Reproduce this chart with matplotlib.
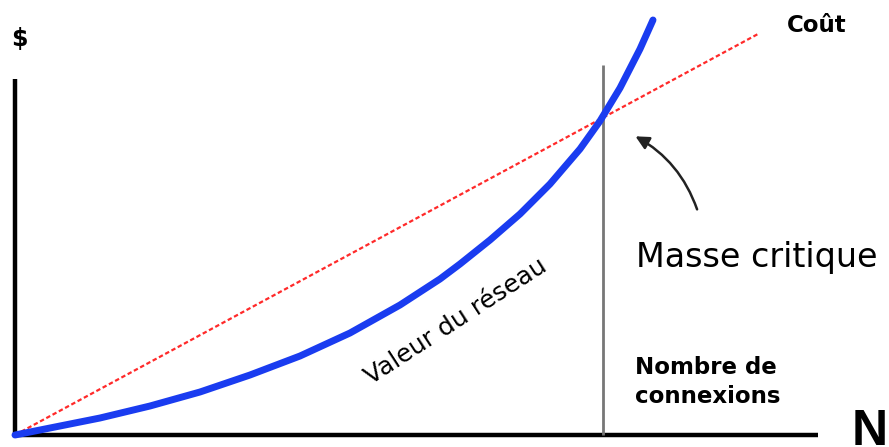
"""
Masse critique: valeur du réseau (courbe) contre coût (droite) en
fonction du nombre de connexions.
"""
import matplotlib
matplotlib.use("Agg")
import matplotlib.pyplot as plt
from matplotlib.patches import FancyArrowPatch

# connexions (x) and value in arbitrary units, origin at the corner
valeur_x = [0, 35, 85, 135, 185, 235, 285, 335, 385, 425, 445, 475,
            505, 535, 565, 585, 605, 625, 638]
valeur_y = [0, 7, 17, 29, 43, 60, 79, 102, 130, 156, 171, 195,
            221, 251, 286, 314, 347, 386, 415]
cout_x = [0, 743]
cout_y = [0, 401]
masse_critique_x = 588
axe_x_max = 803
axe_y_max = 356
seuil_y_max = 370

FONT = ["DejaVu Sans"]

fig = plt.figure(figsize=(8.89, 4.47), dpi=100, facecolor="white")
ax = fig.add_axes([0, 0, 1, 1])
ax.set_xlim(-15, 874)
ax.set_ylim(-12, 435)
ax.axis("off")

# axes drawn by hand
ax.plot([0, 0], [0, axe_y_max], color="black", lw=3.2, solid_capstyle="butt")
ax.plot([0, axe_x_max], [0, 0], color="black", lw=3.2, solid_capstyle="butt")

# critical mass line
ax.plot([masse_critique_x, masse_critique_x], [0, seuil_y_max],
        color="#777777", lw=2.0, solid_capstyle="butt")

# cost line and network value
ax.plot(cout_x, cout_y, color="#ff2a2a", lw=1.6, linestyle=(0, (2.0, 1.2)))
ax.plot(valeur_x, valeur_y, color="#1a3cf0", lw=5.0,
        solid_capstyle="round", solid_joinstyle="round")

# arrow pointing at the crossing
arrow = FancyArrowPatch((683, 223), (618, 300),
                        connectionstyle="arc3,rad=0.2",
                        arrowstyle="-|>,head_length=8,head_width=4",
                        color="#222222", lw=1.8)
ax.add_patch(arrow)

ax.text(-4, 396, "$", fontsize=17, fontweight="bold", family=FONT,
        ha="left", va="center")
ax.text(772, 410, "Coût", fontsize=16.5, fontweight="bold", family=FONT,
        ha="left", va="center")
ax.text(621, 177, "Masse critique", fontsize=24, family=FONT,
        ha="left", va="center")
ax.text(620, 53, "Nombre de\nconnexions", fontsize=16.5, fontweight="bold",
        family=FONT, ha="left", va="center", linespacing=1.3)
ax.text(441, 114, "Valeur du réseau", fontsize=18, family=FONT,
        rotation=33, rotation_mode="anchor", ha="center", va="center")
ax.text(837, -10, "N", fontsize=36, fontweight="bold",
        family=["Liberation Sans", "DejaVu Sans"], ha="left", va="baseline")

fig.savefig("out.png", dpi=100, facecolor="white")
